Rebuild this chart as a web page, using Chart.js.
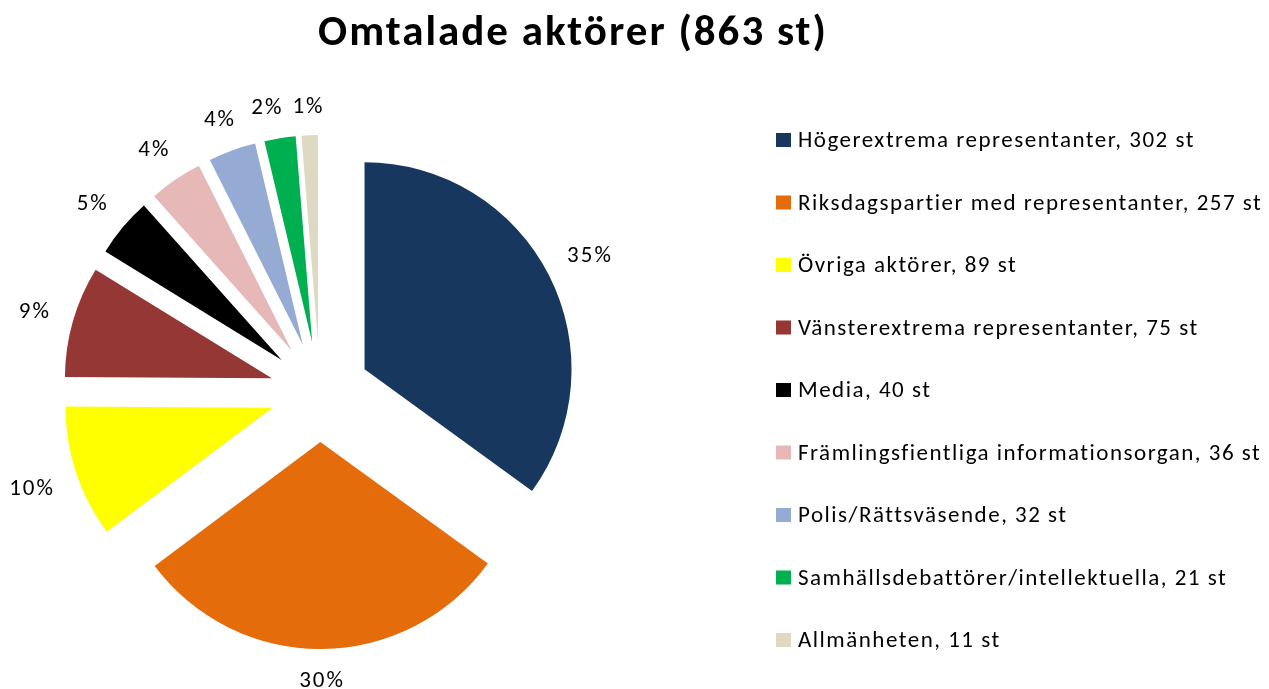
<!DOCTYPE html>
<html lang="sv">
<head>
<meta charset="utf-8">
<title>Omtalade aktörer</title>
<script src="https://cdn.jsdelivr.net/npm/chart.js@4.4.1/dist/chart.umd.min.js"></script>
<style>
  html, body { margin: 0; padding: 0; background: #fff; }
  canvas { display: block; }
</style>
</head>
<body>
<canvas id="pieChart" width="1269" height="689"></canvas>
<script>
const chartTitle = "Omtalade aktörer (863 st)";
const categories = [
  "Högerextrema representanter",
  "Riksdagspartier med representanter",
  "Övriga aktörer",
  "Vänsterextrema representanter",
  "Media",
  "Främlingsfientliga informationsorgan",
  "Polis/Rättsväsende",
  "Samhällsdebattörer/intellektuella",
  "Allmänheten"
];
const counts = [302, 257, 89, 75, 40, 36, 32, 21, 11];
const sliceColors = ["#17375E", "#E46C0A", "#FFFF00", "#953735", "#000000", "#E6B9B8", "#95ABD3", "#00B050", "#DDD9C3"];

const FONT = "Carlito, Lato, 'Open Sans', sans-serif";
const R = 207;        // pie radius
const EXPLODE = 50;   // how far every slice is pulled out

const explodedPie = {
  id: "explodedPie",
  beforeDatasetDraw(chart, args) {
    // draw each arc moved out along its middle angle (same radius for all)
    const ctx = chart.ctx;
    args.meta.data.forEach(arc => {
      const mid = (arc.startAngle + arc.endAngle) / 2;
      ctx.save();
      ctx.translate(Math.cos(mid) * EXPLODE, Math.sin(mid) * EXPLODE);
      arc.draw(ctx);
      ctx.restore();
    });
    return false;
  },
  afterDatasetsDraw(chart) {
    const ctx = chart.ctx;
    const total = counts.reduce((a, b) => a + b, 0);
    const h = 16;
    ctx.save();
    ctx.font = "23px " + FONT;
    ctx.letterSpacing = "2px";
    ctx.fillStyle = "#000";
    ctx.textAlign = "center";
    ctx.textBaseline = "alphabetic";
    const arcs = chart.getDatasetMeta(0).data;
    const boxes = arcs.map((arc, i) => {
      const mid = (arc.startAngle + arc.endAngle) / 2;
      const text = Math.round(counts[i] / total * 100) + "%";
      const w = ctx.measureText(text).width;
      const dx = Math.cos(mid), dy = Math.sin(mid);
      const d = R + EXPLODE + 22 + Math.abs(dx) * w / 2 + Math.abs(dy) * h / 2;
      return { text, w, x: arc.x + dx * d, y: arc.y + dy * d };
    });
    // push crowded labels at the top to the left, starting from the last one
    for (let i = boxes.length - 2; i >= 0; i--) {
      const a = boxes[i], b = boxes[i + 1];
      const overlapY = Math.abs(a.y - b.y) < h + 2;
      const minGap = (a.w + b.w) / 2 + 9;
      if (overlapY && a.x < b.x && b.x - a.x < minGap) a.x = b.x - minGap;
    }
    boxes.forEach(b => ctx.fillText(b.text, b.x, b.y + h / 2));
    ctx.restore();
  },
  afterDraw(chart) {
    const ctx = chart.ctx;
    ctx.save();
    ctx.fillStyle = "#000";
    ctx.textBaseline = "alphabetic";

    // title
    ctx.font = "bold 43px " + FONT;
    ctx.letterSpacing = "2px";
    ctx.textAlign = "center";
    ctx.fillText(chartTitle, 573, 45);

    // legend
    ctx.font = "23px " + FONT;
    ctx.letterSpacing = "1.5px";
    ctx.textAlign = "left";
    categories.forEach((name, i) => {
      const base = 147 + i * 62.5;
      ctx.fillStyle = sliceColors[i];
      ctx.fillRect(776, base - 14, 15, 14);
      ctx.fillStyle = "#000";
      ctx.fillText(name + ", " + counts[i] + " st", 798, base);
    });
    ctx.restore();
  }
};

new Chart(document.getElementById("pieChart"), {
  type: "pie",
  data: {
    labels: categories,
    datasets: [{
      data: counts,
      backgroundColor: sliceColors,
      borderWidth: 0,
      radius: R,
      clip: false
    }]
  },
  options: {
    responsive: false,
    animation: false,
    events: [],
    layout: { padding: { left: 0, right: 629, top: 95, bottom: 0 } },
    plugins: {
      legend: { display: false },
      title: { display: false },
      tooltip: { enabled: false }
    }
  },
  plugins: [explodedPie]
});
</script>
</body>
</html>
